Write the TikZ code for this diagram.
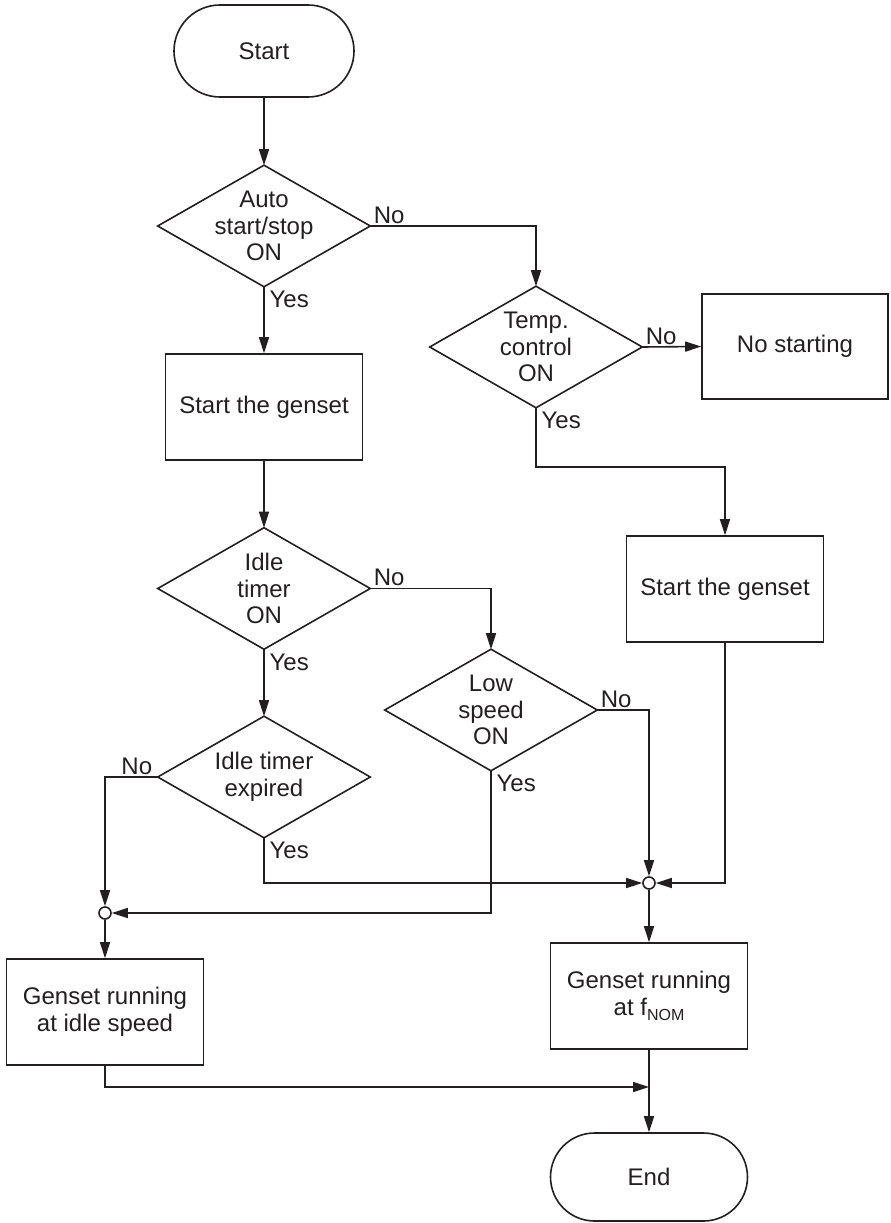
\documentclass[tikz,border=0pt]{standalone}
\usepackage{fontspec}
\setmainfont{Liberation Sans}
\usetikzlibrary{arrows.meta}
\definecolor{ink}{HTML}{231F20}
\begin{document}
\begin{tikzpicture}[x=0.75pt,y=-0.75pt,
  every node/.style={font=\fontsize{18}{20}\selectfont, text=ink},
  line/.style={draw=ink, line width=1.2pt},
  arr/.style={line, -{Triangle[length=12pt,width=7.5pt]}},
  term/.style={line, rectangle, rounded corners=#1, align=center},
  stepbox/.style={line, rectangle, minimum width=147.75pt, minimum height=79.5pt, align=center, inner sep=0pt},
  dia/.style={rectangle, minimum width=159pt, minimum height=90.75pt, align=center, inner sep=0pt},
  junc/.style={line, circle, fill=white, minimum size=9pt, inner sep=0pt},
  lab/.style={inner sep=1pt}
]
\useasboundingbox (0,0) rectangle (890,1223);

% nodes
\node[term=34.5pt, minimum width=135pt, minimum height=69pt] (start) at (264,51) {Start};
\node[dia] (d1) at (264,226) {Auto\\start/stop\\ON};
\node[stepbox] (b1) at (264,407) {Start the genset};
\node[dia] (d3) at (264,588.5) {Idle\\timer\\ON};
\node[dia] (d5) at (264,777) {Idle timer\\expired};
\node[dia] (d2) at (536,347) {Temp.\\control\\ON};
\node[stepbox, minimum width=139.5pt, minimum height=78.75pt] (ns) at (795,346.5) {No starting};
\node[stepbox] (b2) at (725,589) {Start the genset};
\node[dia] (d4) at (491,710) {Low\\speed\\ON};
\node[junc] (j1) at (649,883) {};
\node[junc] (j2) at (105,913) {};
\node[stepbox] (idle) at (105,1012) {Genset running\\at idle speed};
\node[stepbox] (fnom) at (649,996) {Genset running\\at f{\fontsize{12}{12}\selectfont\raisebox{-3.5pt}{NOM}}};
\node[term=33pt, minimum width=147.75pt, minimum height=66pt] (end) at (649,1177) {End};

% diamonds
\foreach \d in {d1,d2,d3,d4,d5}
  \draw[line, line join=miter] (\d.north) -- (\d.east) -- (\d.south) -- (\d.west) -- cycle;

\coordinate (k1) at (536,467);
\coordinate (m1) at (649,1087);

% connectors
\draw[arr] (start.south) -- (d1.north);
\draw[arr] (d1.east) -| (d2.north);
\draw[arr] (d1.south) -- (b1.north);
\draw[arr] (d2.east) -- (ns.west);
\draw[arr] (d2.south) -- (k1) -| (b2.north);
\draw[arr] (b1.south) -- (d3.north);
\draw[arr] (d3.east) -| (d4.north);
\draw[arr] (d3.south) -- (d5.north);
\draw[arr] (d5.south) |- (j1.west);
\draw[arr] (d4.east) -| (j1.north);
\draw[arr] (b2.south) |- (j1.east);
\draw[arr] (d4.south) |- (j2.east);
\draw[arr] (d5.west) -| (j2.north);
\draw[arr] (j2.south) -- (idle.north);
\draw[arr] (j1.south) -- (fnom.north);
\draw[arr] (fnom.south) -- (end.north);
\draw[arr] (idle.south) |- (m1);

% labels
\node[lab, anchor=south west] (l1) at ([shift={(2,-1)}]d1.east) {No};
\node[lab, anchor=north west] (l2) at ([shift={(4,3)}]d1.south) {Yes};
\node[lab, anchor=south west] (l3) at ([shift={(2,-1)}]d2.east) {No};
\node[lab, anchor=north west] (l4) at ([shift={(4,3)}]d2.south) {Yes};
\node[lab, anchor=south west] (l5) at ([shift={(2,-1)}]d3.east) {No};
\node[lab, anchor=north west] (l6) at ([shift={(4,3)}]d3.south) {Yes};
\node[lab, anchor=south west] (l7) at ([shift={(2,-1)}]d4.east) {No};
\node[lab, anchor=north west] (l8) at ([shift={(4,3)}]d4.south) {Yes};
\node[lab, anchor=south east] (l9) at ([shift={(-4,-1)}]d5.west) {No};
\node[lab, anchor=north west] (l10) at ([shift={(4,3)}]d5.south) {Yes};
\end{tikzpicture}
\end{document}
